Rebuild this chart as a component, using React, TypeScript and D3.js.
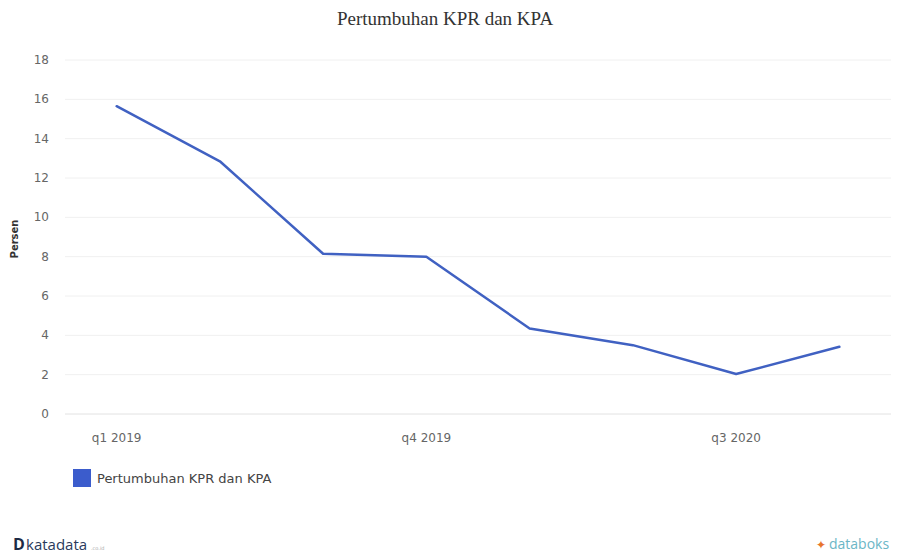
import React from "react";
import * as d3 from "d3";

const categories = ["q1 2019", "q2 2019", "q3 2019", "q4 2019", "q1 2020", "q2 2020", "q3 2020", "q4 2020"];
const values = [15.65, 12.85, 8.15, 8.0, 4.35, 3.5, 2.03, 3.42];
const yTicks = [0, 2, 4, 6, 8, 10, 12, 14, 16, 18];
const xTickLabels = ["q1 2019", "q4 2019", "q3 2020"];
const seriesName = "Pertumbuhan KPR dan KPA";
const title = "Pertumbuhan KPR dan KPA";
const yTitle = "Persen";

const W = 907;
const H = 556;
const plot = { left: 65, right: 891, top: 60, bottom: 414 };
const lineColor = "#4061c2";

export default function App() {
  const x = d3.scaleBand<string>().domain(categories).range([plot.left, plot.right]);
  const xc = (c: string) => (x(c) as number) + x.bandwidth() / 2;
  const y = d3.scaleLinear().domain([0, 18]).range([plot.bottom, plot.top]);
  const line = d3
    .line<number>()
    .x((_, i) => xc(categories[i]))
    .y((d) => y(d));
  const font = "'DejaVu Sans', Verdana, sans-serif";

  return (
    <svg width={W} height={H} style={{ position: "absolute", left: 0, top: 0, background: "#fff" }}>
      <rect x={0} y={0} width={W} height={H} fill="#fff" />
      <text x={445} y={25} textAnchor="middle" fontFamily="'Liberation Serif', 'Times New Roman', serif" fontSize={19} fill="#333">
        {title}
      </text>
      {yTicks.map((t) => (
        <g key={t}>
          <line x1={plot.left} x2={plot.right} y1={y(t)} y2={y(t)} stroke={t === 0 ? "#e2e2e2" : "#f0f0f0"} strokeWidth={1} />
          <text x={49} y={y(t) + 4} textAnchor="end" fontFamily={font} fontSize={12} fill="#666">
            {t}
          </text>
        </g>
      ))}
      {xTickLabels.map((c) => (
        <text key={c} x={xc(c)} y={442} textAnchor="middle" fontFamily={font} fontSize={12} fill="#666">
          {c}
        </text>
      ))}
      <text
        transform={`translate(18, ${(plot.top + plot.bottom) / 2 + 2}) rotate(-90)`}
        textAnchor="middle"
        fontFamily={font}
        fontSize={10}
        fontWeight="bold"
        fill="#333"
      >
        {yTitle}
      </text>
      <path d={line(values) || ""} fill="none" stroke={lineColor} strokeWidth={2.5} strokeLinejoin="round" strokeLinecap="round" />
      <rect x={73} y={469} width={18} height={18} fill="#3b5ccc" />
      <text x={97} y={483} fontFamily={font} fontSize={13} fill="#444">
        {seriesName}
      </text>
      <text x={13} y={550} fontFamily="'Open Sans', 'DejaVu Sans', sans-serif" fontSize={16} fontWeight="bold" fill="#1d2a44">
        D
      </text>
      <text x={26} y={550} fontFamily="'Open Sans', 'DejaVu Sans', sans-serif" fontSize={15} fill="#2a3a5c">
        katadata
      </text>
      <text x={91} y={550} fontFamily={font} fontSize={5} fill="#aaa">
        .co.id
      </text>
      <text x={816} y={549} fontFamily="'Open Sans', sans-serif" fontSize={12} fill="#e8742c">
        ✦
      </text>
      <text x={829} y={549} fontFamily="'Open Sans', 'DejaVu Sans', sans-serif" fontSize={14} fill="#6bb6c6">
        databoks
      </text>
    </svg>
  );
}
